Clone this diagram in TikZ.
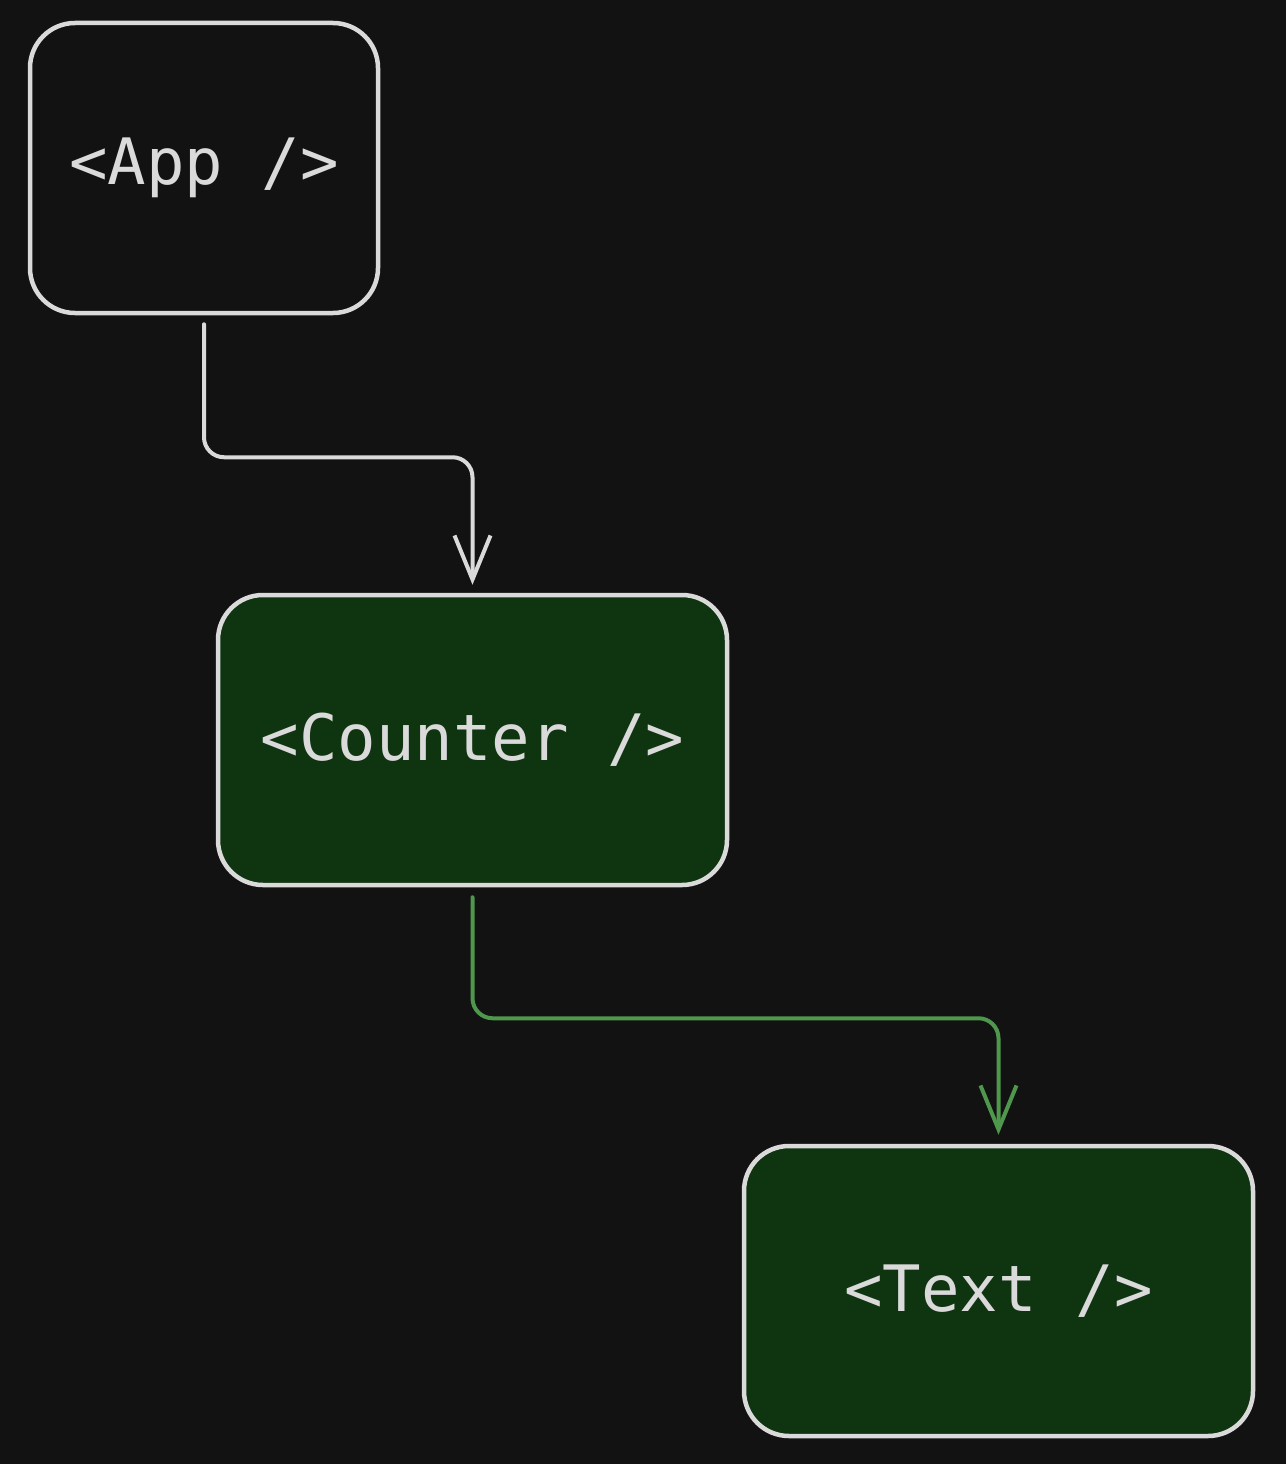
\documentclass[tikz,border=0pt]{standalone}
\usepackage{fontspec}
\setmonofont{DejaVu Sans Mono}
\usetikzlibrary{arrows.meta}
\definecolor{bgdark}{HTML}{121212}
\definecolor{strokegray}{HTML}{DADADA}
\definecolor{boxgreen}{HTML}{0F3410}
\definecolor{linkgreen}{HTML}{4E974C}
\tikzset{
  comp/.style={draw=strokegray, line width=4.5pt, rounded corners=45pt,
    text=strokegray, font=\ttfamily\fontsize{64}{64}\selectfont,
    minimum height=290pt, inner sep=0pt},
  active/.style={comp, fill=boxgreen},
  link/.style={line width=4pt, rounded corners=20pt, line cap=round,
    -{Straight Barb[length=44pt,width=36pt,line width=4pt]}},
}

\begin{document}
\begin{tikzpicture}[x=1pt, y=-1pt]

\fill[bgdark] (0,0) rectangle (1286,1464);
\useasboundingbox (0,0) rectangle (1286,1464);

\node[comp, minimum width=348pt] (app) at (204,168) {<App />};
\node[active, minimum width=509pt] (counter) at (472.5,740) {<Counter />};
\node[active, minimum width=509pt] (text) at (998.5,1291) {<Text />};

\draw[link, strokegray] ([yshift=-9pt]app.south) -- ++(0,133) -| ([yshift=8pt]counter.north);
\draw[link, linkgreen] ([yshift=-10pt]counter.south) -- ++(0,121) -| ([yshift=9pt]text.north);

\end{tikzpicture}
\end{document}
